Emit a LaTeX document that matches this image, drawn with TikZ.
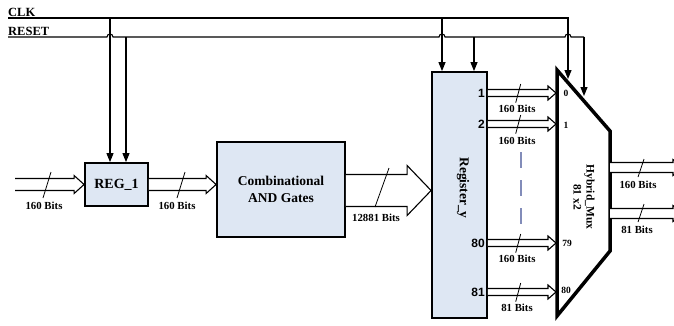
\documentclass[tikz,border=0pt]{standalone}
\usepackage{fontspec}
\setmainfont{Liberation Serif}
\newfontfamily\sansf{Liberation Sans}
\usetikzlibrary{calc,arrows.meta}
\definecolor{boxfill}{RGB}{222,231,243}
\definecolor{dashc}{RGB}{130,140,185}
\newcommand\busarr[5]{%
  \draw[bus] ($(#1)+(0,#3)$) -- ($(#2)+(-#5,#3)$) -- ($(#2)+(-#5,#4)$) -- (#2)
    -- ($(#2)+(-#5,-#4)$) -- ($(#2)+(-#5,-#3)$) -- ($(#1)+(0,-#3)$);}
\begin{document}
\begin{tikzpicture}[x=1pt,y=-1pt,
  box/.style={draw, line width=1.8pt, fill=boxfill, inner sep=0pt},
  sig/.style={line width=1.1pt},
  arr/.style={sig, -{Triangle[length=9pt,width=7pt]}},
  bus/.style={line width=1.1pt, fill=white, line join=miter},
  slash/.style={line width=0.8pt},
  lbl/.style={font=\bfseries\fontsize{10.8}{12}\selectfont, inner sep=0pt},
  sig lbl/.style={font=\bfseries\fontsize{12.5}{14}\selectfont, inner sep=0pt, anchor=west},
  num/.style={font=\sansf\bfseries\fontsize{12}{14}\selectfont, inner sep=0pt, anchor=east},
  inl/.style={font=\bfseries\fontsize{9.5}{10}\selectfont, inner sep=0pt}]
\clip (0,0) rectangle (674,325);
\fill[white] (0,0) rectangle (674,325);

% signal labels
\node[sig lbl] (clk) at (8,12) {CLK};
\node[sig lbl] (rst) at (8,31) {RESET};

% boxes
\node[box, minimum width=63pt, minimum height=43pt, font=\bfseries\fontsize{14}{16}\selectfont] (reg1) at (116.5,184.5) {REG\_1};
\node[box, minimum width=128pt, minimum height=95pt, align=center, font=\bfseries\fontsize{13.5}{16.5}\selectfont] (comb) at (281,189.5) {Combinational\\AND Gates};
\node[box, minimum width=55pt, minimum height=246pt] (regy) at (459.5,195) {};
\node[rotate=-90, font=\bfseries\fontsize{13.5}{15}\selectfont, inner sep=0pt] (regyt) at (463,188) {Register\_y};

% mux
\coordinate (m1) at (557,70);
\coordinate (m2) at (610,131);
\coordinate (m3) at (610,251);
\coordinate (m4) at (557,316);
\draw[line width=3.5pt, fill=white, line join=miter] (m1) -- (m2) -- (m3) -- (m4) -- cycle;
\node[rotate=-90, align=center, font=\bfseries\fontsize{11.5}{13}\selectfont, inner sep=0pt] (muxt) at (584,197) {Hybrid\_Mux\\81 x2};

% clock / reset coordinates
\coordinate (clkL) at (8,18);
\coordinate (rstL) at (8,37);
\coordinate (r1c) at ($(reg1.north)+(-6.5,0)$);
\coordinate (r1r) at ($(reg1.north)+(9.5,0)$);
\coordinate (ryc) at ($(regy.north)+(-17.5,0)$);
\coordinate (ryr) at ($(regy.north)+(14.5,0)$);
\coordinate (mc) at (568,79);
\coordinate (mr) at (584,96);

% CLK line
\draw[arr] (clkL) -- (clkL -| mc) -- (mc);
\draw[arr] (clkL -| r1c) -- (r1c);
\draw[arr] (clkL -| ryc) -- (ryc);
% RESET line with hops
\draw[sig] (rstL) -- ($(rstL -| r1c)+(-3,0)$) arc[start angle=180,end angle=0,radius=3pt]
  -- ($(rstL -| ryc)+(-3,0)$) arc[start angle=180,end angle=0,radius=3pt]
  -- ($(rstL -| mc)+(-3,0)$) arc[start angle=180,end angle=0,radius=3pt]
  -- (rstL -| mr);
\draw[arr] (rstL -| mr) -- (mr);
\draw[arr] (rstL -| r1r) -- (r1r);
\draw[arr] (rstL -| ryr) -- (ryr);

% input bus
\coordinate (in1) at (15,184.5);
\busarr{in1}{reg1.west}{6}{9}{10}
\draw[slash] (51,172) -- (43,198);
\node[lbl] (l1) at (44,206) {160 Bits};

% reg1 -> comb
\busarr{reg1.east}{reg1.east -| comb.west}{6}{9}{10}
\draw[slash] (185,172) -- (177,198);
\node[lbl] (l2) at (177,206) {160 Bits};

% comb -> register_y
\coordinate (cb) at ($(comb.east)+(0,1)$);
\busarr{cb}{cb -| regy.west}{16}{25}{24}
\draw[slash] (389,168) -- (375,207);
\node[lbl] (l3) at (376,218) {12881 Bits};

% register outputs
\coordinate (mL) at (556,0);
\coordinate (o1) at (regy.east |- 0,93);
\coordinate (o2) at (regy.east |- 0,124);
\coordinate (o80) at (regy.east |- 0,243);
\coordinate (o81) at (regy.east |- 0,292);
\busarr{o1}{o1 -| mL}{3.5}{7}{8}
\busarr{o2}{o2 -| mL}{3.5}{7}{8}
\busarr{o80}{o80 -| mL}{3.5}{7}{8}
\busarr{o81}{o81 -| mL}{3.5}{7}{8}
\draw[slash] (520.7,84) -- (515.7,102.7);
\draw[slash] (520.7,115) -- (515.7,133.7);
\draw[slash] (520.7,234) -- (515.7,252.7);
\draw[slash] (520.7,283) -- (515.7,301.7);
\node[lbl] (l4) at (517,109) {160 Bits};
\node[lbl] (l5) at (517,141) {160 Bits};
\node[lbl] (l6) at (517,259) {160 Bits};
\node[lbl] (l7) at (517,308) {81 Bits};
\draw[dashc, line width=1.2pt, dash pattern=on 16pt off 12pt] (521,152) -- (521,228);

\node[num] (n1) at (485,93) {1};
\node[num] (n2) at (485,124) {2};
\node[num] (n80) at (485,243) {80};
\node[num] (n81) at (485,292) {81};

\node[inl] (i0) at (566,93) {0};
\node[inl] (i1) at (566,125) {1};
\node[inl] (i79) at (567,243) {79};
\node[inl] (i80) at (566,290) {80};

% mux outputs
\coordinate (q1) at ($(m2)!0.3!(m3)$);
\coordinate (q1s) at (q1 |- 0,167.5);
\coordinate (q1e) at (685,167.5);
\coordinate (q2s) at (q1 |- 0,213.5);
\coordinate (q2e) at (685,213.5);
\busarr{q1s}{q1e}{5}{8}{12}
\busarr{q2s}{q2e}{5}{8}{12}
\draw[slash] (644,159) -- (638,177);
\draw[slash] (644,204) -- (638,222);
\node[lbl] (l8) at (638,185) {160 Bits};
\node[lbl] (l9) at (637,230) {81 Bits};
\end{tikzpicture}
\end{document}
